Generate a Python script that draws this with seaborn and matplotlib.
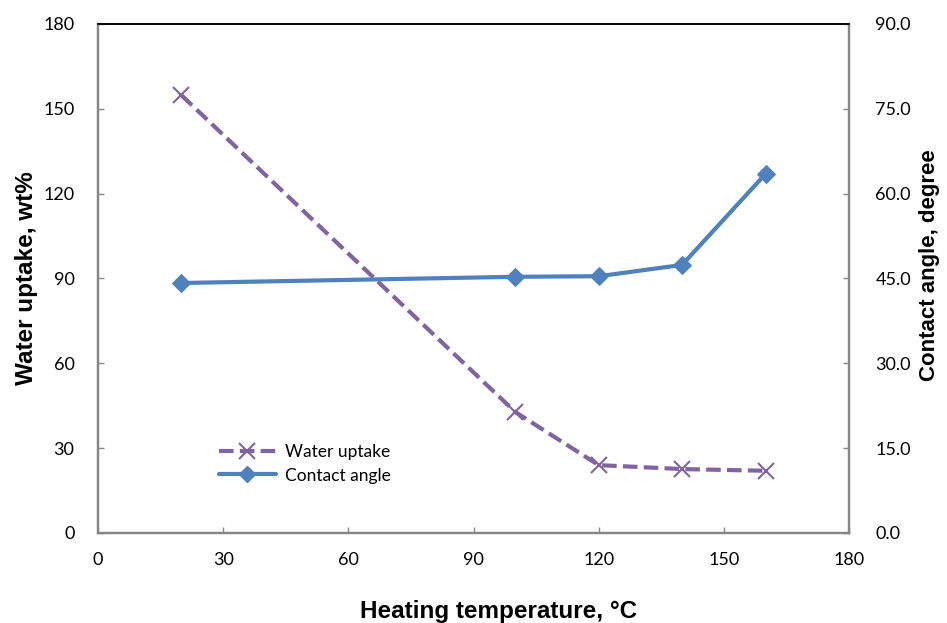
import matplotlib
matplotlib.use("Agg")
import matplotlib.pyplot as plt
import seaborn as sns
import pandas as pd
from matplotlib.lines import Line2D

temps = [20, 100, 120, 140, 160]
water_uptake = [154.8, 42.8, 24.0, 22.6, 22.0]
contact_angle = [44.2, 45.3, 45.4, 47.4, 63.5]

sns.set_style("white")
plt.rcParams['font.family'] = ['Liberation Sans', 'DejaVu Sans']
plt.rcParams['text.color'] = 'black'
plt.rcParams['axes.labelcolor'] = 'black'

df_w = pd.DataFrame({"temp": temps, "val": water_uptake})
df_c = pd.DataFrame({"temp": temps, "val": contact_angle})

fig = plt.figure(figsize=(9.47, 6.23), dpi=100)
ax = fig.add_axes([0.1035, 0.1445, 0.793, 0.817])
ax2 = ax.twinx()

purple = "#8064A2"
blue = "#4F81BD"
axis_gray = "#868686"

sns.lineplot(data=df_w, x="temp", y="val", ax=ax, color=purple, linewidth=3,
             linestyle=(0, (3.5, 1.5)), marker="x", markersize=11, markeredgewidth=1.5,
             markeredgecolor=purple, zorder=3)
sns.lineplot(data=df_c, x="temp", y="val", ax=ax2, color=blue, linewidth=3,
             marker="D", markersize=9, markeredgecolor=blue, zorder=3)

ax.set_xlim(0, 180)
ax.set_ylim(0, 180)
ax2.set_ylim(0, 90)
ax.set_xticks(range(0, 181, 30))
ax.set_yticks(range(0, 181, 30))
ax2.set_yticks([0, 15, 30, 45, 60, 75, 90])
ax2.set_yticklabels([f"{v:.1f}" for v in [0, 15, 30, 45, 60, 75, 90]])

for a in (ax, ax2):
    for name, s in a.spines.items():
        s.set_color("black" if name == "top" else axis_gray)
        s.set_linewidth(1.6 if name != "top" else 1.2)
    a.tick_params(axis="both", labelsize=13, length=4, width=1, direction="in",
                  colors=axis_gray, labelcolor="black")
    for lab in a.get_xticklabels() + a.get_yticklabels():
        lab.set_family(['Lato', 'DejaVu Sans'])
ax.tick_params(left=True, bottom=True)
ax.tick_params(axis="y", pad=17)
ax.tick_params(axis="x", pad=14)
ax2.tick_params(right=True, pad=19)

ax.set_xlabel("Heating temperature, °C", fontsize=17.5, fontweight="bold", color="black")
ax.xaxis.set_label_coords(0.534, -0.132)
ax.set_ylabel("Water uptake, wt%", fontsize=17.5, fontweight="bold", color="black")
ax.yaxis.set_label_coords(-0.08, 0.5)
ax2.set_ylabel("Contact angle, degree", fontsize=16, fontweight="bold", color="black")
ax2.yaxis.set_label_coords(1.093, 0.527)

handles = [
    Line2D([], [], color=purple, linewidth=3, linestyle=(0, (3.5, 1.5)), marker="x",
           markersize=11, markeredgewidth=1.5),
    Line2D([], [], color=blue, linewidth=3, marker="D", markersize=8),
]
leg = ax.legend(handles, ["Water uptake", "Contact angle"], loc="upper left",
                bbox_to_anchor=(0.14, 0.205), frameon=False,
                prop={'family': ['Lato', 'DejaVu Sans'], 'size': 12.5},
                handlelength=3.3, handletextpad=0.5, labelspacing=0.42)
for t in leg.get_texts():
    t.set_color("black")

fig.savefig("out.png", dpi=100)
